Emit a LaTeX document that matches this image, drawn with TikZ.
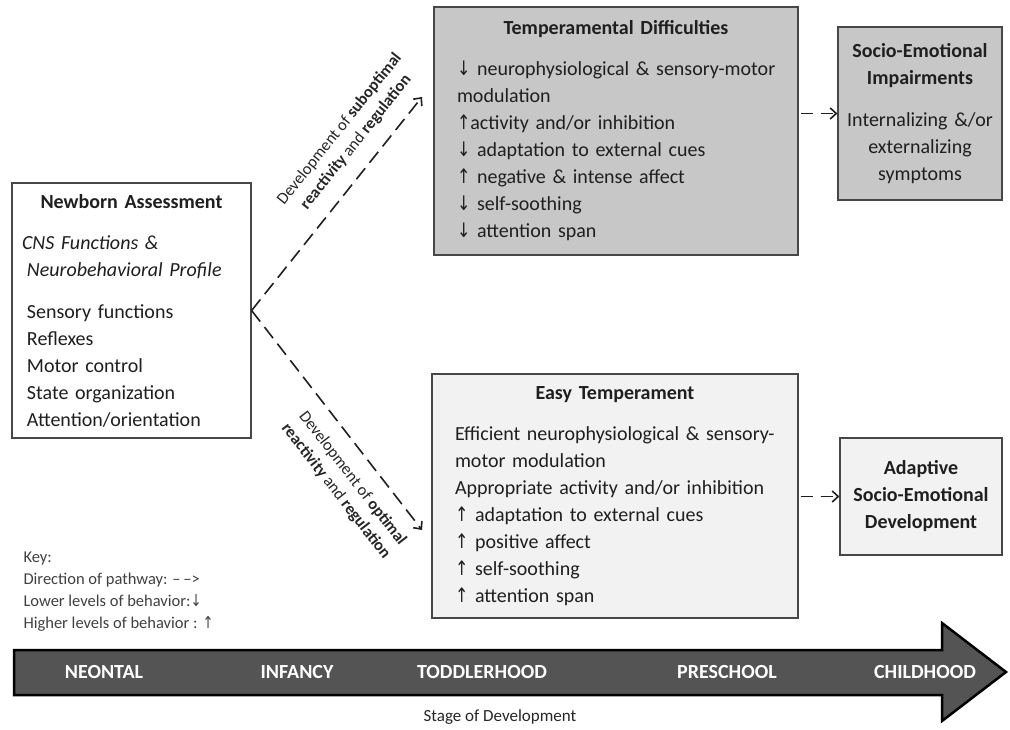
\documentclass[tikz,border=0pt]{standalone}
\usepackage{fontspec}
\setmainfont{Carlito}
\newfontfamily\arrowfont{DejaVu Sans}
\usetikzlibrary{arrows.meta}
\newcommand{\uparr}{{\arrowfont\scalebox{0.8}[1]{↑}}}
\newcommand{\dnarr}{{\arrowfont\scalebox{0.8}[1]{↓}}}

\begin{document}
\begin{tikzpicture}[x=1pt,y=-1pt,>={Straight Barb[length=6pt,width=11pt]},
  box/.style={rectangle,draw=black!72,line width=1.2pt,text=black!88,font=\fontsize{20}{27}\selectfont},
  dark box/.style={box,fill=black!22},
  light box/.style={box,fill=black!5},
  path/.style={->,dash pattern=on 14pt off 7pt,line width=1.6pt,draw=black!88},
  path lab/.style={align=center,text=black!85,font=\fontsize{16.5}{21}\selectfont},
  stage lab/.style={text=white,font=\fontsize{20}{20}\selectfont\bfseries}]
  \useasboundingbox (0,0) rectangle (1010,730);

  \node[box,fill=white,minimum width=239pt,minimum height=255pt,text width=209pt,inner xsep=15pt,align=left] (nb) at (131.5,310.5)
    {\makebox[\linewidth]{\bfseries Newborn Assessment}\\[14pt]
     \hspace*{-5pt}\textit{CNS Functions \&}\\
     \textit{Neurobehavioral Profile}\\[15pt]
     Sensory functions\\ Reflexes\\ Motor control\\ State organization\\ Attention/orientation};

  \node[dark box,minimum width=364pt,minimum height=248pt,text width=318pt,inner xsep=23pt,align=left] (td) at (616,131)
    {\makebox[\linewidth]{\bfseries Temperamental Difficulties}\\[14pt]
     \mbox{\dnarr\ neurophysiological \& sensory-motor}\\ modulation\\
     \uparr activity and/or inhibition\\ \dnarr\ adaptation to external cues\\
     \uparr\ negative \& intense affect\\ \dnarr\ self-soothing\\ \dnarr\ attention span};

  \node[light box,minimum width=366pt,minimum height=244pt,text width=320pt,inner xsep=23pt,align=left] (et) at (615,496)
    {\makebox[\linewidth]{\bfseries Easy Temperament}\\[14pt]
     \mbox{Efficient neurophysiological \& sensory-}\\ motor modulation\\
     Appropriate activity and/or inhibition\\ \uparr\ adaptation to external cues\\
     \uparr\ positive affect\\ \uparr\ self-soothing\\ \uparr\ attention span};

  \node[dark box,minimum width=164pt,minimum height=173pt,text width=154pt,inner xsep=5pt,align=center] (si) at (920,113.5)
    {\textbf{Socio-Emotional}\\ \textbf{Impairments}\\[15pt] Internalizing \&/or\\ externalizing\\ symptoms};

  \node[light box,minimum width=162pt,minimum height=117pt,text width=152pt,inner xsep=5pt,align=center,font=\fontsize{20}{27}\selectfont\bfseries] (ad) at (921,496.5)
    {Adaptive\\ Socio-Emotional\\ Development};

  \coordinate (up) at (422,97);
  \coordinate (down) at (422,530);

  \path (nb.east) edge[path] node[path lab,pos=0.72,sloped,above=12pt] {Development of \textbf{suboptimal}\\ \textbf{reactivity} and \textbf{regulation}} (up)
        (nb.east) edge[path] node[path lab,pos=0.70,sloped,below=12pt] {Development of \textbf{optimal}\\ \textbf{reactivity} and \textbf{regulation}} (down);
  \draw[path,dash pattern=on 12pt off 8pt,shorten <=2pt] (td.east |- si.west) -- (si.west);
  \draw[path,dash pattern=on 12pt off 8pt,shorten <=2pt] (et.east |- ad.west) -- (ad.west);

  % key
  \node[anchor=west,align=left,text=black!75,font=\fontsize{16.5}{22}\selectfont] (key) at (20,592)
    {Key:\\ Direction of pathway: \textendash\,\textendash{>}\\ Lower levels of behavior:\dnarr\\ Higher levels of behavior : \uparr};

  % stages
  \draw[line width=2.5pt,fill=black!67,draw=black] (14,650) -- (942,650) -- (942,623) -- (1006,672) -- (942,721) -- (942,695) -- (14,695) -- cycle;
  \node[stage lab] (neo) at (104,672) {NEONTAL};
  \node[stage lab] (inf) at (297,672) {INFANCY};
  \node[stage lab] (tod) at (482,672) {TODDLERHOOD};
  \node[stage lab] (pre) at (727,672) {PRESCHOOL};
  \node[stage lab] (chi) at (925,672) {CHILDHOOD};
  \node[text=black!85,font=\fontsize{17}{17}\selectfont] (stage) at (500,717) {Stage of Development};
\end{tikzpicture}
\end{document}
